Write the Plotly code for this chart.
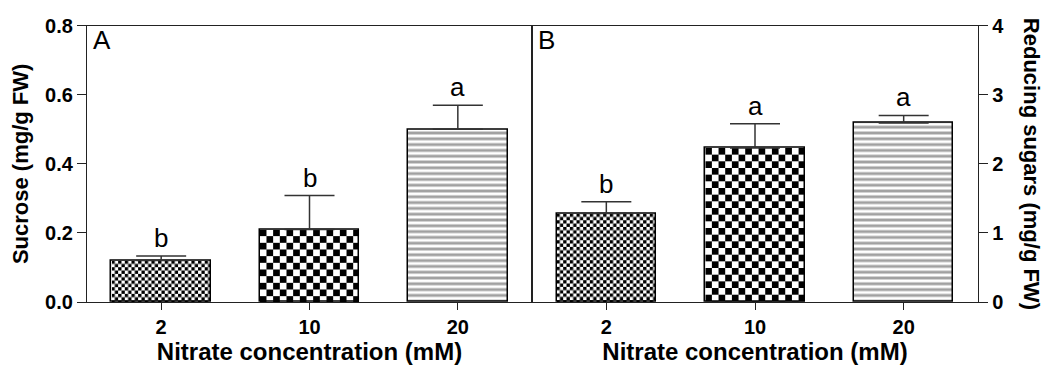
import base64
import plotly.graph_objects as go

# data
categories = ["2", "10", "20"]
sucrose = [0.12, 0.21, 0.50]
sucrose_err = [0.013, 0.098, 0.07]
sucrose_letters = ["b", "b", "a"]
reducing = [1.28, 2.23, 2.59]
reducing_err = [0.17, 0.35, 0.11]
reducing_letters = ["b", "a", "a"]

FONT = "Liberation Sans, Arial, sans-serif"
W, H = 1049, 365
OFF = 8  # page body margin pushes the figure 8px right/down
BAR_W = 0.67
LINE = "#222"


def hdom(a, b):
    return [(a - OFF) / W, (b - OFF) / W]


X1_DOM = hdom(87, 532)
X2_DOM = hdom(532, 978)
Y_DOM = [(H - (302 - OFF)) / H, (H - (25.7 - OFF)) / H]


def checker_uri(a, w_px, h_px):
    # checkerboard texture sized to the bar in pixels, so squares stay square
    svg = (
        f'<svg xmlns="http://www.w3.org/2000/svg" width="{w_px:.2f}" height="{h_px:.2f}" '
        f'viewBox="0 0 {w_px:.2f} {h_px:.2f}" preserveAspectRatio="none">'
        f'<defs><pattern id="c" width="{2*a}" height="{2*a}" patternUnits="userSpaceOnUse">'
        f'<rect width="{2*a}" height="{2*a}" fill="white"/>'
        f'<rect width="{a}" height="{a}" fill="black"/>'
        f'<rect x="{a}" y="{a}" width="{a}" height="{a}" fill="black"/>'
        f'</pattern></defs><rect width="100%" height="100%" fill="url(#c)"/></svg>'
    )
    return "data:image/svg+xml;base64," + base64.b64encode(svg.encode()).decode()


checker_sizes = [3.33, 6.67, None]
xpos = list(range(len(categories)))
plot_h = (Y_DOM[1] - Y_DOM[0]) * H

fig = go.Figure()
panels = [
    (sucrose, sucrose_err, sucrose_letters, "x", "y", X1_DOM, 0.8),
    (reducing, reducing_err, reducing_letters, "x2", "y2", X2_DOM, 4.0),
]
for vals, errs, letters, xa, ya, xdom, ymax in panels:
    fig.add_trace(go.Bar(
        x=xpos, y=vals, width=BAR_W, xaxis=xa, yaxis=ya,
        marker=dict(
            color=["rgba(0,0,0,0)", "rgba(0,0,0,0)", "white"],
            line=dict(color="black", width=1.5),
            pattern=dict(shape=["", "", "-"], size=5.8, solidity=0.5,
                         fgcolor="black", bgcolor="white"),
        ),
        error_y=dict(type="data", symmetric=False, array=errs,
                     arrayminus=[0] * len(errs), color="#333",
                     thickness=1.5, width=25),
        showlegend=False,
    ))
    bar_px_w = BAR_W * (xdom[1] - xdom[0]) * W / len(categories)
    for i, v in enumerate(vals):
        if checker_sizes[i]:
            fig.add_layout_image(
                source=checker_uri(checker_sizes[i], bar_px_w, v / ymax * plot_h),
                xref=xa, yref=ya,
                x=i - BAR_W / 2, y=v, sizex=BAR_W, sizey=v,
                xanchor="left", yanchor="top", sizing="stretch", layer="below",
            )
        fig.add_annotation(
            x=i, y=v + errs[i], xref=xa, yref=ya, text=letters[i],
            showarrow=False, yanchor="bottom", yshift=1,
            font=dict(size=26, family=FONT, color="black"),
        )

xcommon = dict(
    range=[-0.5, 2.5], tickvals=xpos, ticktext=categories,
    showline=True, linecolor=LINE, linewidth=1.3, mirror=True,
    ticks="outside", ticklen=7, tickcolor=LINE, tickwidth=1.3,
    tickfont=dict(size=20, family=FONT, color="black", weight="bold"),
    showgrid=False, zeroline=False, automargin=False,
    title=dict(text="<b>Nitrate concentration (mM)</b>", standoff=4,
               font=dict(size=24, family=FONT, color="black")),
)
ycommon = dict(
    showline=True, linecolor=LINE, linewidth=1.3, mirror=True,
    ticks="outside", ticklen=9, tickcolor=LINE, tickwidth=1.3,
    tickfont=dict(size=20, family=FONT, color="black", weight="bold"),
    showgrid=False, zeroline=False, automargin=False,
)

fig.update_layout(
    width=W, height=H,
    margin=dict(l=0, r=0, t=0, b=0),
    paper_bgcolor="white", plot_bgcolor="white",
    bargap=0,
    xaxis=dict(domain=X1_DOM, anchor="y", **xcommon),
    xaxis2=dict(domain=X2_DOM, anchor="y2", **xcommon),
    yaxis=dict(domain=Y_DOM, anchor="x", range=[0, 0.8],
               tickvals=[0, 0.2, 0.4, 0.6, 0.8], tickformat=".1f",
               title=dict(text="<b>Sucrose (mg/g FW)</b>", standoff=14,
                          font=dict(size=22, family=FONT, color="black")),
               **ycommon),
    yaxis2=dict(domain=Y_DOM, anchor="x2", range=[0, 4],
                side="right", tickvals=[0, 1, 2, 3, 4], **ycommon),
)

# panel letters
for lab, xa in [("A", "x"), ("B", "x2")]:
    fig.add_annotation(
        text=lab, xref=f"{xa} domain", yref="y domain", x=0, y=1,
        xanchor="left", yanchor="top", xshift=4, yshift=3,
        showarrow=False, font=dict(size=26, family=FONT, color="black"),
    )

# right-hand title reads top to bottom
fig.add_annotation(
    text="<b>Reducing sugars (mg/g FW)</b>", textangle=90,
    xref="paper", yref="y2 domain", x=(1031 - OFF) / W, y=0.5,
    xanchor="center", yanchor="middle", showarrow=False,
    font=dict(size=22, family=FONT, color="black"),
)

fig.write_html("out.html")
